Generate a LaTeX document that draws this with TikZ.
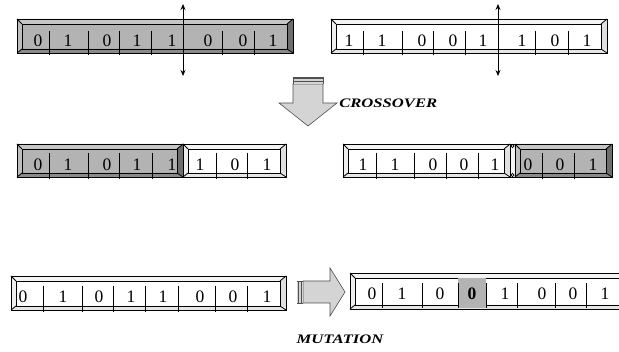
\documentclass[tikz,border=0pt]{standalone}
\usepackage{fontspec}
\setmainfont{Liberation Serif}
\usetikzlibrary{arrows.meta}
\definecolor{gin}{HTML}{B3B3B3}
\definecolor{gt}{HTML}{C6C6C6}
\definecolor{gl}{HTML}{BEBEBE}
\definecolor{gb}{HTML}{8A8A8A}
\definecolor{gr}{HTML}{6E6E6E}
\definecolor{win}{HTML}{FFFFFF}
\definecolor{wt}{HTML}{F4F4F4}
\definecolor{wl}{HTML}{EFEFEF}
\definecolor{wb}{HTML}{E6E6E6}
\definecolor{wr}{HTML}{E0E0E0}
\definecolor{arrfill}{HTML}{D4D4D4}
\definecolor{arredge}{HTML}{505050}
\newcommand\bevbar[5]{%
  \fill[#5in] (#1,#2) rectangle (#3,#4);
  \fill[#5t] (#1,#2) -- (#3,#2) -- ({#3-6},{#2+5}) -- ({#1+5},{#2+5}) -- cycle;
  \fill[#5l] (#1,#2) -- (#1,#4) -- ({#1+5},{#4-4}) -- ({#1+5},{#2+5}) -- cycle;
  \fill[#5b] (#1,#4) -- (#3,#4) -- ({#3-6},{#4-4}) -- ({#1+5},{#4-4}) -- cycle;
  \fill[#5r] (#3,#2) -- (#3,#4) -- ({#3-6},{#4-4}) -- ({#3-6},{#2+5}) -- cycle;
  \draw[barline] (#1,#2) rectangle (#3,#4);
  \draw[barline] ({#1+5},{#2+5}) rectangle ({#3-6},{#4-4});
  \draw[barline] (#1,#2) -- ({#1+5},{#2+5}) (#3,#2) -- ({#3-6},{#2+5})
                 (#1,#4) -- ({#1+5},{#4-4}) (#3,#4) -- ({#3-6},{#4-4});
}
\tikzset{
  barline/.style={line width=0.8pt, black},
  divline/.style={line width=0.8pt, black},
  dig/.style={anchor=base, inner sep=0pt, font=\fontsize{17.5}{17.5}\selectfont},
  lbl/.style={inner sep=0pt, font=\fontsize{13}{13}\selectfont\bfseries\itshape, xscale=1.28},
  cut/.style={line width=0.8pt, {Stealth[length=6pt,width=5pt]}-{Stealth[length=6pt,width=5pt]}},
  bigarrow/.style={fill=arrfill, draw=arredge, line width=0.6pt},
}
\begin{document}
\begin{tikzpicture}[x=1pt,y=-1pt]
\useasboundingbox (0,0) rectangle (619,352);
\clip (0,0) rectangle (619,352);
% ---------- Row 1 ----------
\bevbar{17}{19}{293}{53}{g}
\foreach \x in {49,88,119,151,222,254} \draw[divline] (\x,31) -- (\x,55);
\foreach \x/\d [count=\i] in {38/0,68/1,107/0,137/1,172/1,208/0,243/0,273/1}
  \node[dig] (ra\i) at (\x,47) {\d};
\coordinate (ca1) at (183,4); \coordinate (ca2) at (183,76);
\draw[cut] (ca1) -- (ca2);

\bevbar{331}{19}{607}{53}{w}
\foreach \x in {363,402,433,465,535,568} \draw[divline] (\x,31) -- (\x,55);
\foreach \x/\d [count=\i] in {349/1,382/1,422/0,453/0,483/1,522/1,555/0,587/1}
  \node[dig] (rb\i) at (\x,47) {\d};
\coordinate (cb1) at (498,4); \coordinate (cb2) at (498,76);
\draw[cut] (cb1) -- (cb2);

% ---------- Crossover arrow ----------
\draw[bigarrow] (293,84) -- (323,84) -- (323,103) -- (337,103) -- (308,126)
  -- (279,103) -- (293,103) -- cycle;
\fill[arrfill] (293,77) rectangle (323,84);
\draw[arredge, line width=1.6pt] (293,78) -- (323,78);
\draw[arredge, line width=1.2pt] (293,81.5) -- (323,81.5);
\draw[arredge, line width=0.6pt] (293,77) -- (293,84) (323,77) -- (323,84);
\node[lbl, anchor=west] (xo) at (339,103) {CROSSOVER};

% ---------- Row 2 ----------
\bevbar{17}{144}{183}{177}{g}
\bevbar{183}{144}{286}{177}{w}
\foreach \x in {49,88,119,152,216,247} \draw[divline] (\x,153) -- (\x,179);
\foreach \x/\d [count=\i] in {38/0,68/1,107/0,137/1,172/1,200/1,235/0,267/1}
  \node[dig] (rc\i) at (\x,171) {\d};

\bevbar{343}{144}{510}{177}{w}
\fill[wt] (510,144) rectangle (515,177);
\draw[barline] (510,144) rectangle (515,177);
\draw[barline] (512.5,146) circle (1.6) (512.5,175) circle (1.6);
\bevbar{515}{144}{612}{177}{g}
\foreach \x in {376,414,446,478,542,574} \draw[divline] (\x,153) -- (\x,179);
\foreach \x/\d [count=\i] in {363/1,395/1,433/0,464/0,495/1,528/0,560/0,593/1}
  \node[dig] (rd\i) at (\x,171) {\d};

% ---------- Row 3 ----------
\bevbar{11}{276}{286}{310}{w}
\foreach \x in {43,82,113,145,178,215,247} \draw[divline] (\x,286) -- (\x,312);
\foreach \x/\d [count=\i] in {23/0,63/1,99/0,131/1,163/1,200/0,233/0,267/1}
  \node[dig] (re\i) at (\x,303) {\d};

% mutation arrow
\draw[bigarrow] (303,281) -- (330,281) -- (330,268) -- (345,292) -- (330,316)
  -- (330,303) -- (303,303) -- cycle;
\fill[arrfill] (297,281) rectangle (303,303);
\draw[arredge, line width=1.4pt] (298.5,281) -- (298.5,303);
\draw[arredge, line width=1.0pt] (301.5,281) -- (301.5,303);
\draw[arredge, line width=0.6pt] (297,281) -- (303,281) (297,303) -- (303,303);
\node[lbl] (mu) at (340,339) {MUTATION};

\bevbar{350}{273}{628}{309}{w}
\fill[gin] (458,278) rectangle (486,308);
\foreach \x in {382,422,458,486,517,555,586} \draw[divline] (\x,283) -- (\x,308);
\foreach \x/\d [count=\i] in {372/0,402/1,440/0,505/1,542/0,573/0,605/1}
  \node[dig] (rf\i) at (\x,300) {\d};
\node[dig, font=\fontsize{17.5}{17.5}\selectfont\bfseries] (rfm) at (472,300) {0};
\end{tikzpicture}
\end{document}
